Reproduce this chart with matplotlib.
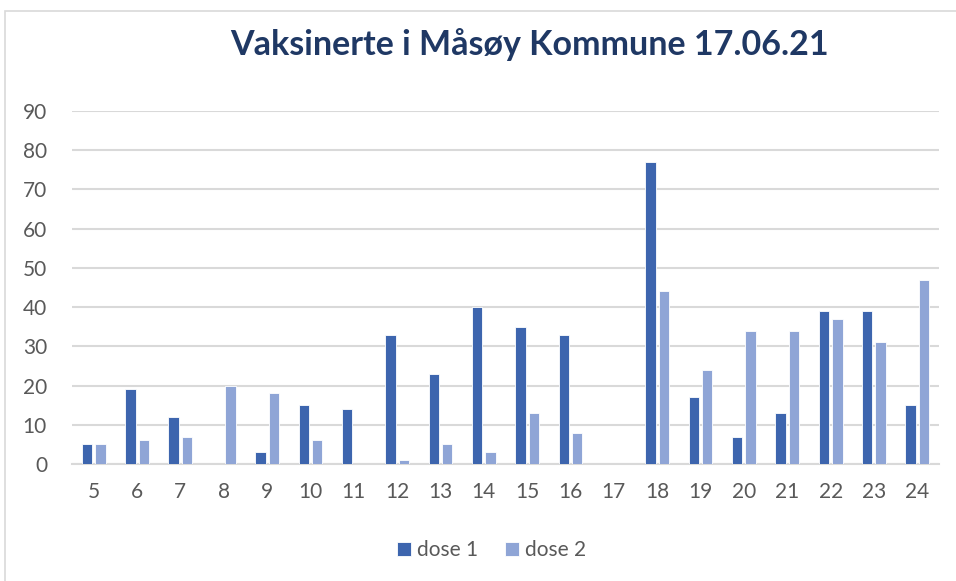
#!/usr/bin/env python3
"""Vaksinerte i Måsøy Kommune 17.06.21 - grouped bar chart, dose 1 / dose 2 per week."""

import matplotlib
matplotlib.use("Agg")
import matplotlib.pyplot as plt
from matplotlib.patches import Rectangle
import numpy as np

weeks = ["5", "6", "7", "8", "9", "10", "11", "12", "13", "14",
         "15", "16", "17", "18", "19", "20", "21", "22", "23", "24"]
dose1 = [5, 19, 12, 0, 3, 15, 14, 33, 23, 40, 35, 33, 0, 77, 17, 7, 13, 39, 39, 15]
dose2 = [5, 6, 7, 20, 18, 6, 0, 1, 5, 3, 13, 8, 0, 44, 24, 34, 34, 37, 31, 47]

DOSE1_COLOR = "#3d65ae"
DOSE2_COLOR = "#8fa5d6"
GRID = "#d9d9d9"
TEXT = "#595959"
TITLE = "#1f3864"

plt.rcParams.update({
    "font.family": ["Lato", "DejaVu Sans"],
})

fig = plt.figure(figsize=(9.56, 5.81), dpi=100)
ax = fig.add_axes([72 / 956, 117 / 581, 867 / 956, 353 / 581])

# chart frame (only top/left visible in the original crop)
fig.patches.append(Rectangle((5 / 956, -0.1), 1.2, 570 / 581 + 0.1,
                             transform=fig.transFigure, fill=False,
                             edgecolor="#d9d9d9", linewidth=1.2))

x = np.arange(len(weeks))
w = 0.24
gap = 0.035
ax.bar(x - w / 2 - gap, dose1, width=w, color=DOSE1_COLOR,
       edgecolor="white", linewidth=0.6, label="dose 1", zorder=3)
ax.bar(x + w / 2 + gap, dose2, width=w, color=DOSE2_COLOR,
       edgecolor="white", linewidth=0.6, label="dose 2", zorder=3)

ax.set_xlim(-0.5, len(weeks) - 0.5)
ax.set_ylim(0, 90)
ax.set_yticks(range(0, 91, 10))
ax.set_xticks(x)
ax.set_xticklabels(weeks)
ax.grid(axis="y", color=GRID, linewidth=1.5, zorder=0)
for s in ["top", "right", "left"]:
    ax.spines[s].set_visible(False)
ax.spines["bottom"].set_color(GRID)
ax.spines["bottom"].set_linewidth(1.5)
ax.tick_params(axis="both", length=0, labelsize=15, colors=TEXT)
ax.tick_params(axis="x", pad=13)
ax.tick_params(axis="y", pad=18)

fig.text(530 / 956, 1 - 45 / 581, "Vaksinerte i Måsøy Kommune 17.06.21",
         ha="center", va="center", fontsize=24.5, fontweight="bold",
         color=TITLE)

leg = ax.legend(loc="center", bbox_to_anchor=(0.484, -0.245), ncol=2,
                frameon=False, fontsize=15, handlelength=0.67,
                handleheight=0.67, handletextpad=0.3, columnspacing=1.3)
for t in leg.get_texts():
    t.set_color(TEXT)

fig.savefig("out.png", dpi=100)
plt.close(fig)
